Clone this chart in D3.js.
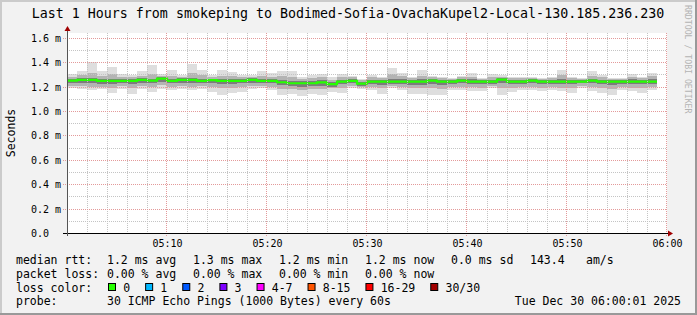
<!DOCTYPE html>
<html>
<head>
<meta charset="utf-8">
<script src="https://cdn.jsdelivr.net/npm/d3@7"></script>
<style>
  body { margin: 0; background: #f2f2f2; }
  text { font-family: "DejaVu Sans Mono", monospace; fill: #000; }
</style>
</head>
<body>
<script>
//// DATA
// Median RTT per 60s step (ms), 05:00 -> 05:59
var median = [1.248,1.254,1.254,1.246,1.246,1.246,1.246,1.254,1.248,1.265,
              1.246,1.254,1.254,1.246,1.252,1.246,1.246,1.246,1.254,1.246,
              1.246,1.235,1.227,1.227,1.227,1.234,1.219,1.240,1.246,1.224,
              1.240,1.240,1.240,1.240,1.240,1.240,1.248,1.240,1.240,1.248,
              1.240,1.240,1.240,1.257,1.240,1.240,1.248,1.240,1.240,1.240,
              1.240,1.240,1.248,1.240,1.240,1.240,1.240,1.240,1.240];

// Smoke: spread of the 30 pings per step (ms)
var rttMax = [1.303,1.328,1.399,1.328,1.358,1.303,1.293,1.328,1.375,1.303,
              1.336,1.295,1.385,1.336,1.295,1.336,1.322,1.295,1.295,1.330,
              1.314,1.330,1.330,1.276,1.295,1.303,1.276,1.303,1.289,1.262,
              1.295,1.281,1.355,1.314,1.281,1.336,1.289,1.281,1.273,1.289,
              1.309,1.268,1.301,1.295,1.279,1.279,1.279,1.273,1.279,1.336,
              1.281,1.273,1.328,1.295,1.273,1.273,1.301,1.281,1.309];
var rttP90 = [1.280,1.292,1.310,1.288,1.300,1.276,1.274,1.290,1.305,1.288,
              1.290,1.278,1.310,1.292,1.276,1.290,1.286,1.274,1.280,1.290,
              1.282,1.285,1.280,1.258,1.268,1.274,1.252,1.276,1.274,1.252,
              1.274,1.266,1.300,1.284,1.266,1.290,1.274,1.266,1.262,1.274,
              1.280,1.260,1.278,1.280,1.266,1.266,1.268,1.264,1.266,1.294,
              1.268,1.262,1.290,1.274,1.262,1.264,1.280,1.268,1.284];
var rttP75 = [1.262,1.268,1.270,1.262,1.264,1.258,1.260,1.266,1.265,1.276,
              1.262,1.266,1.270,1.262,1.264,1.262,1.262,1.260,1.266,1.262,
              1.262,1.255,1.248,1.244,1.246,1.252,1.236,1.256,1.260,1.240,
              1.256,1.254,1.262,1.258,1.254,1.258,1.262,1.254,1.254,1.262,
              1.258,1.254,1.256,1.270,1.256,1.256,1.262,1.256,1.256,1.262,
              1.256,1.254,1.264,1.256,1.254,1.254,1.258,1.256,1.262];
var rttP25 = [1.228,1.232,1.230,1.222,1.220,1.226,1.222,1.232,1.226,1.240,
              1.226,1.232,1.230,1.226,1.228,1.218,1.222,1.226,1.232,1.228,
              1.226,1.210,1.204,1.200,1.204,1.208,1.200,1.218,1.228,1.208,
              1.220,1.214,1.224,1.220,1.214,1.214,1.222,1.214,1.222,1.228,
              1.220,1.220,1.224,1.230,1.220,1.222,1.228,1.220,1.222,1.220,
              1.218,1.226,1.226,1.218,1.212,1.222,1.220,1.218,1.224];
var rttP10 = [1.206,1.204,1.200,1.200,1.186,1.204,1.190,1.204,1.196,1.210,
              1.200,1.206,1.200,1.204,1.196,1.184,1.190,1.196,1.206,1.208,
              1.200,1.178,1.176,1.168,1.176,1.176,1.184,1.190,1.206,1.196,
              1.196,1.184,1.208,1.194,1.184,1.184,1.186,1.180,1.196,1.200,
              1.194,1.192,1.204,1.190,1.188,1.196,1.200,1.192,1.196,1.192,
              1.186,1.208,1.194,1.186,1.176,1.196,1.192,1.186,1.196];
var rttMin = [1.186,1.178,1.172,1.178,1.145,1.178,1.139,1.178,1.158,1.178,
              1.172,1.178,1.172,1.178,1.158,1.131,1.145,1.158,1.178,1.186,
              1.172,1.131,1.139,1.123,1.139,1.131,1.158,1.150,1.186,1.178,
              1.172,1.139,1.191,1.170,1.139,1.139,1.131,1.131,1.172,1.172,
              1.164,1.164,1.186,1.131,1.153,1.172,1.172,1.164,1.172,1.164,
              1.150,1.191,1.164,1.150,1.131,1.172,1.164,1.150,1.172];

// Ticks
var xTickMinutes = [10, 20, 30, 40, 50, 60];
var xTickLabels = ["05:10", "05:20", "05:30", "05:40", "05:50", "06:00"];
var yTickValues = [0, 0.2, 0.4, 0.6, 0.8, 1.0, 1.2, 1.4, 1.6];
var yTickLabels = ["0.0", "0.2 m", "0.4 m", "0.6 m", "0.8 m", "1.0 m", "1.2 m", "1.4 m", "1.6 m"];

// Legend
var titleText = "Last 1 Hours from smokeping to Bodimed-Sofia-OvachaKupel2-Local-130.185.236.230";
var rttRow = ["median rtt:", "1.2 ms avg", "1.3 ms max", "1.2 ms min", "1.2 ms now", "0.0 ms sd", "143.4", "am/s"];
var lossRow = ["packet loss:", "0.00 % avg", "0.00 % max", "0.00 % min", "0.00 % now"];
var lossLabels = ["0", "1", "2", "3", "4-7", "8-15", "16-29", "30/30"];
var lossColors = ["#26ff00", "#00b8ff", "#0059ff", "#7e00ff", "#ff00ff", "#ff5500", "#ff0000", "#a10000"];
var probeText = "30 ICMP Echo Pings (1000 Bytes) every 60s";
var dateText = "Tue Dec 30 06:00:01 2025";


//// LAYOUT
var W = 697, H = 315;
var plot = {left: 67, right: 667, top: 33, bottom: 233};
var legendCols = [16, 107, 193, 279, 365, 451, 530, 586];
var rowY = [263.5, 277.5, 291.5, 305];

var xScale = d3.scaleLinear().domain([0, 60]).range([plot.left, plot.right]);
var yScale = d3.scaleLinear().domain([0, 1.6385]).range([plot.bottom, plot.top]);

var svg = d3.select("body").append("svg")
    .attr("width", W)
    .attr("height", H);

// Background + shaded frame
svg.append("rect").attr("width", W).attr("height", H).attr("fill", "#f2f2f2");
svg.append("path").attr("d", "M0,1H" + W + "M1,0V" + H)
    .attr("stroke", "#cbcbcb").attr("stroke-width", 2);
svg.append("path").attr("d", "M0," + (H - 1) + "H" + W + "M" + (W - 1) + ",0V" + H)
    .attr("stroke", "#999").attr("stroke-width", 2);

// Canvas
svg.append("rect")
    .attr("x", plot.left).attr("y", plot.top)
    .attr("width", plot.right - plot.left)
    .attr("height", plot.bottom - plot.top)
    .attr("fill", "#fff");


//// SMOKE
var bands = [
    {lo: rttMin, hi: rttMax, color: "#dedede"},
    {lo: rttP10, hi: rttP90, color: "#b4b4b4"},
    {lo: rttP25, hi: rttP75, color: "#7c7c7c"}
];

bands.forEach(function(b) {
    svg.append("g")
        .attr("shape-rendering", "crispEdges")
      .selectAll("rect")
        .data(median)
      .enter().append("rect")
        .attr("x", function(d, i) { return xScale(i); })
        .attr("width", function(d, i) { return xScale(i + 1) - xScale(i); })
        .attr("y", function(d, i) { return yScale(b.hi[i]); })
        .attr("height", function(d, i) { return yScale(b.lo[i]) - yScale(b.hi[i]); })
        .attr("fill", b.color);
});

// Median line (loss 0 -> green)
var medPts = median.map(function(v, i) { return [i, v]; });
medPts.push([median.length, median[median.length - 1]]);
svg.append("path")
    .datum(medPts)
    .attr("fill", "none")
    .attr("stroke", lossColors[0])
    .attr("stroke-width", 2.2)
    .attr("d", d3.line()
        .x(function(d) { return xScale(d[0]); })
        .y(function(d) { return yScale(d[1]); })
        .curve(d3.curveStepAfter));


//// GRID
var grid = svg.append("g")
    .attr("shape-rendering", "crispEdges")
    .attr("stroke-dasharray", "1,1")
    .attr("stroke-width", 1);

var minorX = d3.range(2, 60, 2).filter(function(m) { return m % 10 != 0; });
var minorY = d3.range(1, 17).map(function(k) { return k / 10; })
    .filter(function(v, i) { return (i + 1) % 2 != 0; });

grid.selectAll(".minor.x").data(minorX).enter().append("line")
    .attr("class", "minor x")
    .attr("x1", function(d) { return Math.round(xScale(d)) + 0.5; })
    .attr("x2", function(d) { return Math.round(xScale(d)) + 0.5; })
    .attr("y1", plot.top).attr("y2", plot.bottom)
    .attr("stroke", "#c4c4c4");
grid.selectAll(".minor.y").data(minorY).enter().append("line")
    .attr("class", "minor y")
    .attr("x1", plot.left).attr("x2", plot.right)
    .attr("y1", function(d) { return Math.round(yScale(d)) + 0.5; })
    .attr("y2", function(d) { return Math.round(yScale(d)) + 0.5; })
    .attr("stroke", "#c4c4c4");
grid.selectAll(".major.x").data(xTickMinutes).enter().append("line")
    .attr("class", "major x")
    .attr("x1", function(d) { return Math.round(xScale(d)) - 0.5; })
    .attr("x2", function(d) { return Math.round(xScale(d)) - 0.5; })
    .attr("y1", plot.top).attr("y2", plot.bottom + 3)
    .attr("stroke", "#e39a9a");
grid.selectAll(".major.y").data(yTickValues.slice(1)).enter().append("line")
    .attr("class", "major y")
    .attr("x1", plot.left - 4).attr("x2", plot.right)
    .attr("y1", function(d) { return Math.round(yScale(d)) + 0.5; })
    .attr("y2", function(d) { return Math.round(yScale(d)) + 0.5; })
    .attr("stroke", "#e39a9a");


//// AXES
var xAxis = d3.axisBottom(xScale)
    .tickValues(xTickMinutes)
    .tickSize(0)
    .tickPadding(0)
    .tickFormat(function(d, i) { return xTickLabels[i]; });
var bottom = svg.append("g")
    .attr("transform", "translate(0," + plot.bottom + ")")
    .call(xAxis);
bottom.select(".domain").remove();
bottom.selectAll("text")
    .attr("y", 13.5).attr("dy", null)
    .attr("font-size", "10px")
    .attr("font-family", "DejaVu Sans Mono");

var yAxis = d3.axisLeft(yScale)
    .tickValues(yTickValues)
    .tickSize(0)
    .tickFormat(function(d, i) { return yTickLabels[i]; });
var left = svg.append("g")
    .attr("transform", "translate(" + plot.left + ",0)")
    .call(yAxis);
left.select(".domain").remove();
left.selectAll("text")
    .attr("text-anchor", "start")
    .attr("x", 31 - plot.left).attr("dy", "3.6")
    .attr("font-size", "10px")
    .attr("font-family", "DejaVu Sans Mono");

// Axis lines with arrows
svg.append("line")
    .attr("x1", plot.left - 4).attr("x2", plot.right + 1)
    .attr("y1", plot.bottom + 0.5).attr("y2", plot.bottom + 0.5)
    .attr("stroke", "#000");
svg.append("line")
    .attr("x1", plot.left + 0.5).attr("x2", plot.left + 0.5)
    .attr("y1", plot.bottom + 3).attr("y2", plot.top - 3)
    .attr("stroke", "#555");
svg.append("path")
    .attr("d", "M" + (plot.right + 1) + "," + (plot.bottom - 2.5) + "L" + (plot.right + 6) + "," + (plot.bottom + 0.5) +
               "L" + (plot.right + 1) + "," + (plot.bottom + 3.5) + "Z")
    .attr("fill", "#a10000");
svg.append("path")
    .attr("d", "M" + (plot.left - 2.5) + "," + (plot.top - 2) + "L" + (plot.left + 0.5) + "," + (plot.top - 7) +
               "L" + (plot.left + 3.5) + "," + (plot.top - 2) + "Z")
    .attr("fill", "#a10000");


//// TEXTS
svg.append("text")
    .attr("x", 348).attr("y", 18.3)
    .attr("text-anchor", "middle")
    .attr("font-size", "13.3px")
    .text(titleText);

svg.append("text")
    .attr("transform", "translate(15," + ((plot.top + plot.bottom) / 2) + ") rotate(-90)")
    .attr("text-anchor", "middle")
    .attr("font-size", "11.5px")
    .text("Seconds");

svg.append("text")
    .attr("transform", "translate(685,5) rotate(90)")
    .attr("font-size", "8.2px")
    .style("fill", "#b4b4b4")
    .text("RRDTOOL / TOBI OETIKER");

// Legend rows
var legend = svg.append("g").attr("font-size", "11.5px");

function legendRow(items, y) {
    items.forEach(function(t, i) {
        legend.append("text")
            .attr("x", legendCols[i]).attr("y", y)
            .text(t);
    });
}
legendRow(rttRow, rowY[0]);
legendRow(lossRow, rowY[1]);

legend.append("text").attr("x", legendCols[0]).attr("y", rowY[2]).text("loss color:");
var bx = 108.5;
lossLabels.forEach(function(l, i) {
    legend.append("rect")
        .attr("x", bx).attr("y", rowY[2] - 8)
        .attr("width", 7).attr("height", 7)
        .attr("fill", lossColors[i])
        .attr("stroke", "#000");
    var t = legend.append("text")
        .attr("x", bx + 14.7).attr("y", rowY[2])
        .text(l);
    bx = bx + 14.7 + t.node().getComputedTextLength() + 15.5;
});

legend.append("text").attr("x", legendCols[0]).attr("y", rowY[3]).text("probe:");
legend.append("text").attr("x", legendCols[1]).attr("y", rowY[3]).text(probeText);
legend.append("text").attr("x", 681).attr("y", rowY[3])
    .attr("text-anchor", "end")
    .text(dateText);
</script>
</body>
</html>
